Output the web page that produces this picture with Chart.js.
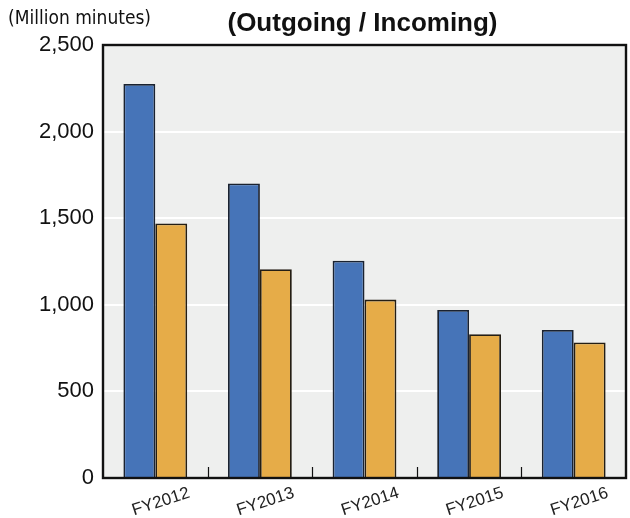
<!DOCTYPE html>
<html>
<head>
<meta charset="utf-8">
<script src="https://cdn.jsdelivr.net/npm/chart.js@4/dist/chart.umd.min.js"></script>
<style>
  html, body { margin: 0; padding: 0; background: #fff; }
  #wrap { width: 630px; height: 518px; }
</style>
</head>
<body>
<div id="wrap"><canvas id="myChart" width="630" height="518"></canvas></div>
<script>
const years = ["FY2012", "FY2013", "FY2014", "FY2015", "FY2016"];
const outgoing = [2275, 1700, 1255, 970, 855];
const incoming = [1470, 1205, 1030, 830, 782];
const yTicks = [0, 500, 1000, 1500, 2000, 2500];

const font = "'Liberation Sans', Arial, Helvetica, sans-serif";

// grey plot background, frame, inner tick marks and the headings
const decor = {
  id: "decor",
  beforeDraw(chart) {
    const { ctx, chartArea: a } = chart;
    ctx.save();
    ctx.fillStyle = "#eeefee";
    ctx.fillRect(a.left, a.top, a.right - a.left, a.bottom - a.top);
    ctx.restore();
  },
  afterDraw(chart) {
    const { ctx, chartArea: a } = chart;
    const x = chart.scales.x;
    ctx.save();
    ctx.strokeStyle = "#111";
    ctx.lineWidth = 1.2;
    for (let i = 1; i < years.length; i++) {
      const px = (x.getPixelForValue(i - 1) + x.getPixelForValue(i)) / 2;
      ctx.beginPath();
      ctx.moveTo(Math.round(px) + 0.5, a.bottom);
      ctx.lineTo(Math.round(px) + 0.5, a.bottom - 11);
      ctx.stroke();
    }
    ctx.lineWidth = 2.4;
    ctx.strokeRect(a.left, a.top, a.right - a.left, a.bottom - a.top);

    ctx.fillStyle = "#111";
    ctx.textBaseline = "alphabetic";
    ctx.textAlign = "center";
    ctx.font = "bold 26px " + font;
    ctx.fillText("(Outgoing / Incoming)", (a.left + a.right) / 2 - 2, 31);
    ctx.textAlign = "left";
    ctx.font = "19px 'Liberation Sans Narrow', 'DejaVu Sans Condensed', " + font;
    ctx.fillText("(Million minutes)", 8, 24);
    ctx.restore();
  }
};

new Chart("myChart", {
  type: "bar",
  data: {
    labels: years,
    datasets: [
      {
        label: "Outgoing",
        data: outgoing,
        backgroundColor: "#4674b8",
        borderColor: "#1a2230",
        borderWidth: 1.8,
        borderSkipped: "bottom"
      },
      {
        label: "Incoming",
        data: incoming,
        backgroundColor: "#e6ac48",
        borderColor: "#241e14",
        borderWidth: 1.8,
        borderSkipped: "bottom"
      }
    ]
  },
  options: {
    responsive: false,
    animation: false,
    layout: { padding: { top: 45, right: 4, left: 0, bottom: 0 } },
    plugins: {
      legend: { display: false },
      tooltip: { enabled: false }
    },
    datasets: {
      bar: { categoryPercentage: 0.61, barPercentage: 1.0 }
    },
    scales: {
      x: {
        grid: { display: false },
        border: { display: false },
        ticks: {
          color: "#222",
          font: { family: font, size: 17 },
          minRotation: 18,
          maxRotation: 18,
          labelOffset: 34,
          padding: -3
        },
        afterFit(scale) { scale.height = 40; }
      },
      y: {
        min: 0,
        max: 2500,
        afterBuildTicks(scale) {
          scale.ticks = yTicks.map(v => ({ value: v }));
        },
        grid: {
          color: ctx => (ctx.tick && (ctx.tick.value === 0 || ctx.tick.value === 2500)) ? "rgba(0,0,0,0)" : "#ffffff",
          lineWidth: 2,
          drawTicks: false
        },
        border: { display: false },
        ticks: {
          color: "#111",
          font: { family: font, size: 22 },
          padding: 9,
          callback: v => v.toLocaleString("en-US")
        },
        afterFit(scale) { scale.width = 103; }
      }
    }
  },
  plugins: [decor]
});
</script>
</body>
</html>
